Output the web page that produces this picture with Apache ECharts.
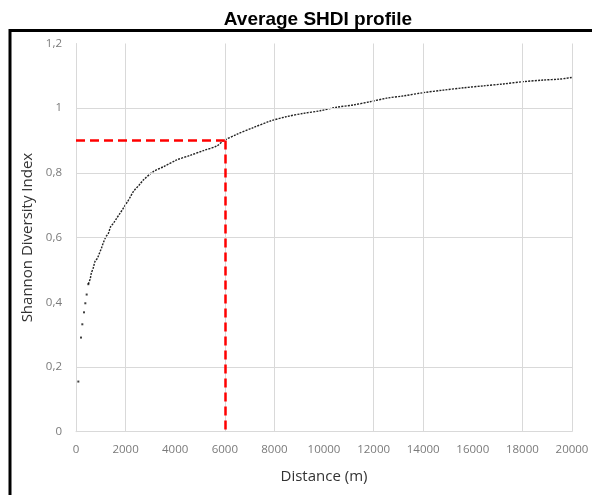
<!DOCTYPE html>
<html>
<head>
<meta charset="utf-8">
<script src="https://cdn.jsdelivr.net/npm/echarts@6/dist/echarts.min.js"></script>
<style>html,body{margin:0;padding:0;background:#fff;}#c{width:592px;height:495px;}</style>
</head>
<body>
<div id="c"></div>
<script>
// Distances (m) and average SHDI values
var distances = [94, 202, 255, 323, 376, 430, 497, 578, 618, 699, 766, 860, 941, 1035, 1102, 1210, 1304, 1398, 1505, 1640, 1774, 1909, 2070, 2177, 2312, 2585, 2715, 3118, 3522, 4060, 4597, 5134, 5672, 5940, 6479, 7150, 7823, 8495, 9167, 9839, 10511, 11183, 11855, 12527, 13199, 14005, 14812, 15618, 16425, 17231, 18038, 18844, 19516, 19987];
var shdiValues = [0.155, 0.291, 0.332, 0.369, 0.397, 0.424, 0.456, 0.474, 0.490, 0.507, 0.526, 0.536, 0.551, 0.569, 0.584, 0.603, 0.613, 0.634, 0.644, 0.660, 0.675, 0.691, 0.710, 0.724, 0.742, 0.766, 0.778, 0.804, 0.819, 0.840, 0.854, 0.869, 0.883, 0.899, 0.919, 0.940, 0.960, 0.974, 0.984, 0.992, 1.003, 1.010, 1.020, 1.031, 1.038, 1.048, 1.056, 1.063, 1.069, 1.075, 1.082, 1.087, 1.090, 1.095];
// Reference threshold (red dashed guide)
var thresholdDistance = 6000;
var thresholdValue = 0.9;
// Gridlines visible in the reference
var xGridValues = [2000, 6000, 8000, 12000, 14000, 18000, 20000];
var yGridValues = [0.2, 0.6, 0.8, 1.0];

var points = distances.map(function (d, i) { return [d, shdiValues[i]]; });
var lineStart = 6;
var dotPoints = points.slice(0, lineStart + 1);
var linePoints = points.slice(lineStart);

var gridMarks = [];
xGridValues.forEach(function (x) { gridMarks.push({ xAxis: x }); });
yGridValues.forEach(function (y) { gridMarks.push({ yAxis: y }); });

var chart = echarts.init(document.getElementById('c'), null, { renderer: 'canvas' });
chart.setOption({
  backgroundColor: '#fff',
  animation: false,
  title: {
    text: 'Average SHDI profile',
    left: 313, top: 5, textAlign: 'center',
    textStyle: { fontFamily: 'Liberation Sans, Arial, sans-serif', fontWeight: 'bold', fontSize: 19, color: '#000' }
  },
  graphic: [{
    type: 'rect', silent: true, z: 100,
    shape: { x: 10, y: 30.5, width: 800, height: 700 },
    style: { fill: 'none', stroke: '#000', lineWidth: 3 }
  }],
  grid: { left: 76, right: 20, top: 43.5, bottom: 63.3, containLabel: false },
  xAxis: {
    type: 'value', min: 0, max: 20000, interval: 2000,
    name: 'Distance (m)', nameLocation: 'middle', nameGap: 38,
    nameTextStyle: { fontFamily: 'Open Sans, sans-serif', fontSize: 15, color: '#333' },
    axisLine: { show: true, lineStyle: { color: '#d9d9d9', width: 1 } },
    axisTick: { show: false },
    splitLine: { show: false },
    axisLabel: {
      margin: 12, fontFamily: 'Open Sans, sans-serif', fontSize: 11.5, color: '#7a7a7a',
      formatter: function (v) { return String(v); }
    }
  },
  yAxis: {
    type: 'value', min: 0, max: 1.2, interval: 0.2,
    name: 'Shannon Diversity Index', nameLocation: 'middle', nameGap: 41,
    nameTextStyle: { fontFamily: 'Open Sans, sans-serif', fontSize: 15, color: '#333' },
    axisLine: { show: true, lineStyle: { color: '#d9d9d9', width: 1 } },
    axisTick: { show: false },
    splitLine: { show: false },
    axisLabel: {
      margin: 14, fontFamily: 'Open Sans, sans-serif', fontSize: 11.5, color: '#7a7a7a',
      formatter: function (v) { return String(Math.round(v * 10) / 10).replace('.', ','); }
    }
  },
  series: [
    {
      type: 'line', data: [], silent: true,
      markLine: {
        silent: true, symbol: 'none', label: { show: false },
        lineStyle: { color: '#d9d9d9', width: 1, type: 'solid' },
        data: gridMarks
      }
    },
    {
      type: 'scatter', data: dotPoints, symbol: 'rect', symbolSize: 2,
      itemStyle: { color: '#111' }, z: 3
    },
    {
      type: 'line', data: linePoints, showSymbol: false, smooth: 0.3,
      lineStyle: { color: '#222', width: 1.4, type: [2, 1.2] }, z: 3
    },
    {
      type: 'line', data: [], silent: true, z: 4,
      markLine: {
        silent: true, symbol: 'none', label: { show: false },
        lineStyle: { color: '#ff0000', width: 2.5, type: [9, 5] },
        data: [
          [{ coord: [0, thresholdValue] }, { coord: [thresholdDistance, thresholdValue] }],
          [{ coord: [thresholdDistance, thresholdValue] }, { coord: [thresholdDistance, 0] }]
        ]
      }
    }
  ]
});
</script>
</body>
</html>
